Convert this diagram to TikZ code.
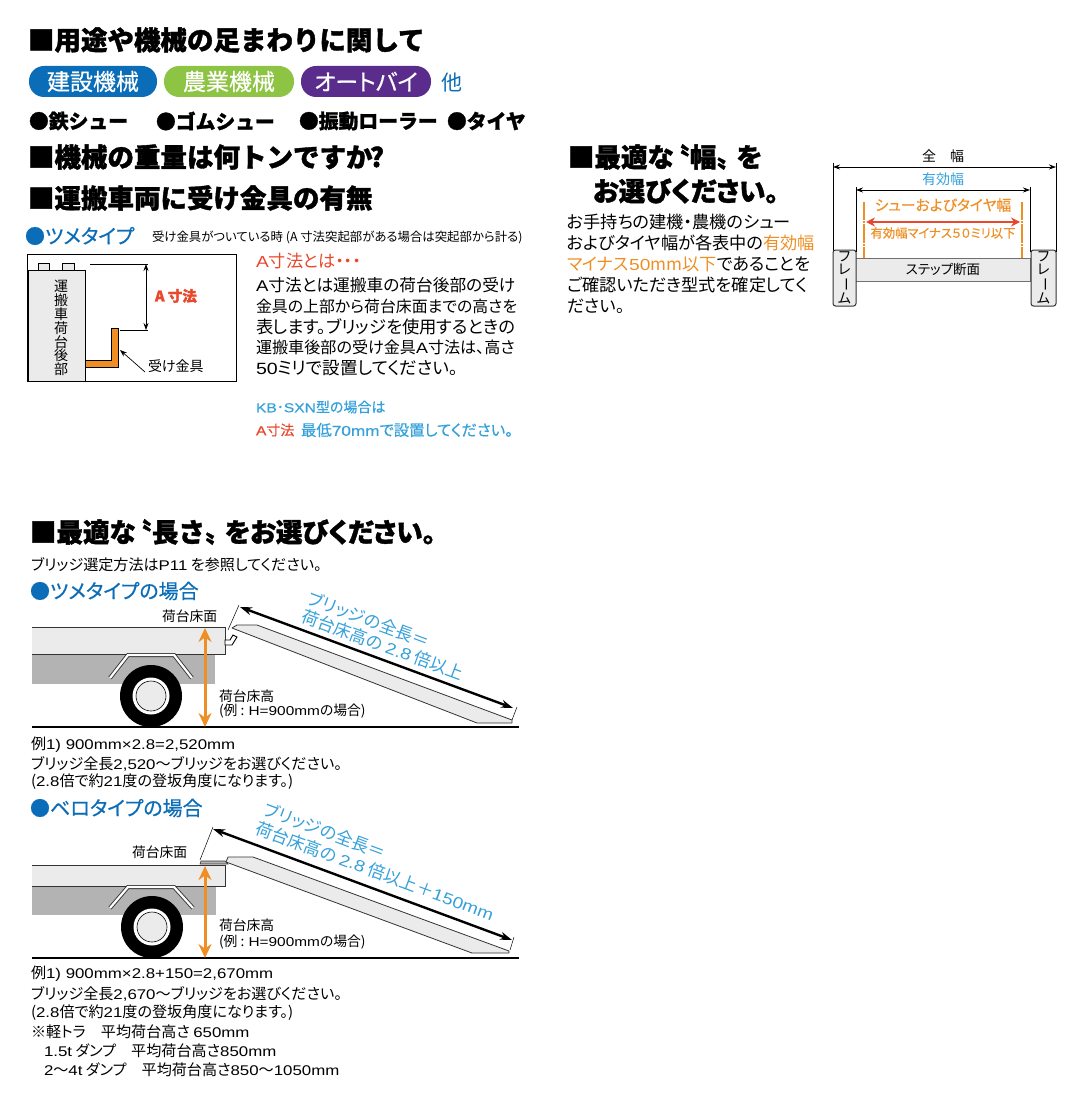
\documentclass[tikz,border=0pt]{standalone}
\usepackage{fontspec}
\usepackage{graphicx}
\usetikzlibrary{arrows.meta}
\setmainfont{Noto Sans CJK JP}[RawFeature=+palt,BoldFeatures={FakeBold=1.4}]
\newfontfamily\hf{Noto Sans CJK JP}[BoldFeatures={FakeBold=1.4}]
\newfontfamily\mf{Noto Sans CJK JP}[RawFeature=+palt,FakeBold=0.5]
\newfontfamily\latf{Liberation Sans}[FakeStretch=1.2,Scale=0.93]
\newfontfamily\latm{Liberation Sans}[FakeStretch=1.2,Scale=0.93,FakeBold=0.5]
\newcommand{\la}[1]{{\latf #1}}
\newcommand{\lam}[1]{{\latm #1}}
\newcommand{\fs}[1]{\fontsize{#1}{#1}\selectfont}
\definecolor{cblue}{HTML}{0B6DB7}
\definecolor{ccyan}{HTML}{35A0DA}
\definecolor{cgreen}{HTML}{8DC444}
\definecolor{cpurple}{HTML}{5A2C8C}
\definecolor{cred}{HTML}{E8472B}
\definecolor{corange}{HTML}{EE8F26}
\definecolor{clight}{HTML}{EBEBEB}
\definecolor{cgray}{HTML}{B3B3B3}
\definecolor{cdark}{HTML}{333333}
\tikzset{
  x=1pt,y=-1pt,
  txt/.style={inner sep=0pt,outer sep=0pt,anchor=west,text=black},
  ctr/.style={inner sep=0pt,outer sep=0pt,anchor=center},
  head/.style={txt,font=\hf\fs{26.5}\bfseries},
  headp/.style={txt,font=\fs{26.5}\bfseries},
  sub/.style={txt,text=cblue,font=\mf\fs{20}},
  row/.style={txt,font=\hf\fs{19.8}\bfseries},
  para/.style={txt,font=\fs{17.2}},
  small/.style={txt,font=\fs{15.1}},
  lab/.style={txt,font=\fs{13.8}},
  pill/.style={rounded corners=15pt,minimum height=31pt,inner sep=0pt,text=white,font=\mf\fs{23}},
  rampshape/.style={fill=clight,draw=cdark,line width=.8pt,line join=round},
  ramptxt/.style={ctr,text=ccyan,rotate=-20.3,font=\fs{17.2}},
  thin/.style={draw=black,line width=.7pt},
  dim/.style={thin,{Stealth[length=7pt,width=5pt]}-{Stealth[length=7pt,width=5pt]}},
  bigdim/.style={draw=black,line width=2.4pt,{Stealth[length=12pt,width=8pt]}-{Stealth[length=12pt,width=8pt]}},
  orangedim/.style={draw=corange,line width=3pt,{Stealth[length=14pt,width=13pt]}-{Stealth[length=14pt,width=13pt]}},
  bed/.style={fill=clight,draw=cdark,line width=1pt},
  frameb/.style={fill=clight,draw=cdark,line width=1pt,rounded corners=2.5pt,minimum height=56pt,inner sep=0pt,align=center,font=\fontsize{14}{13}\selectfont},
  fender/.style={draw=cdark,line width=4pt,line join=miter},
  fenderin/.style={draw=white,line width=2.2pt,line join=miter},
}
\newcommand{\vbarchar}{\rotatebox[origin=c]{-90}{ー}}
\begin{document}
\begin{tikzpicture}
\useasboundingbox (0,0) rectangle (1080,1107);
\node[head] (h1) at (28,40) {■用途や機械の足まわりに関して};
\node[pill,fill=cblue,minimum width=128pt] (p1) at (93,81.5) {建設機械};
\node[pill,fill=cgreen,minimum width=130pt] (p2) at (229,81.5) {農業機械};
\node[pill,fill=cpurple,minimum width=130pt] (p3) at (366,81.5) {オートバイ};
\node[txt,text=cblue,font=\fs{21}] (ta) at (441,83) {他};
\node[row] (r1) at (29,121) {●鉄シュー};
\node[row] (r2) at (156,121) {●ゴムシュー};
\node[row] (r3) at (299,121) {●振動ローラー};
\node[row] (r4) at (447,121) {●タイヤ};
\node[head] (h2) at (28,157) {■機械の重量は何トンですか\kern-.1em ?};
\node[head] (h3) at (28,198) {■運搬車両に受け金具の有無};
\node[sub] (s1) at (25,236) {●ツメタイプ};
\node[txt,font=\fs{12.4}] (s1b) at (152,237) {受け金具がついている時 (A 寸法突起部がある場合は突起部から計る)};
\draw[line width=1pt,fill=white] (27,254) rectangle (236,381);
\draw[line width=1pt,fill=clight] (38,263) rectangle (49,270);
\draw[line width=1pt,fill=clight] (62,263) rectangle (74,270);
\draw[line width=1pt,fill=clight] (28,270) rectangle (85,381);
\node[ctr,align=center,font=\fontsize{14}{12.6}\selectfont] (tv) at (61,328) {運\\搬\\車\\荷\\台\\後\\部};
\draw[fill=corange,draw=black,line width=.8pt] (85,360)--(111,360)--(111,328)--(118,328)--(118,367)--(85,367)--cycle;
\coordinate (dt1) at (90,264); \coordinate (dt2) at (148,264);
\coordinate (db1) at (120,330); \coordinate (db2) at (148,330);
\draw[thin] (dt1)--(dt2); \draw[thin] (db1)--(db2);
\draw[dim] (146,264)--(146,330);
\node[txt,text=cred,font=\hf\fs{14.5}\bfseries] (asun) at (155,296) {A 寸法};
\node[txt,font=\fs{14}] (uk) at (148,366) {受け金具};
\coordinate (ukp) at (120,350);
\draw[thin,-{Stealth[length=7pt,width=5pt]}] (145,372)--(ukp);
\node[para,text=cred] (a0) at (256,261) {\la{A}寸法とは・・・};
\node[txt,font=\fs{16.7}] (a1) at (256,285) {\la{A}寸法とは運搬車の荷台後部の受け};
\node[txt,font=\fs{15.9}] (a2) at (256,306) {金具の上部から荷台床面までの高さを};
\node[txt,font=\fs{17.3}] (a3) at (256,327) {表します。ブリッジを使用するときの};
\node[txt,font=\fs{16.1}] (a4) at (256,347) {運搬車後部の受け金具\la{A}寸法は、高さ};
\node[txt,font=\fs{17.5}] (a5) at (256,368) {\la{50}ミリで設置してください。};
\node[txt,text=ccyan,font=\mf\fs{14}] (k1) at (256,407) {\lam{KB}･\lam{SXN}型の場合は};
\node[txt,text=cred,font=\mf\fs{14}] (k2) at (256,430) {\lam{A}寸法};
\node[txt,text=ccyan,font=\mf\fs{15.4}] (k3) at (301,430) {最低\lam{70mm}で設置してください。};
\node[head] (w1) at (568,157) {■最適な\kern-.4em 〝幅〟\kern-.25em を};
\node[headp] (w2) at (593,191) {お選びください。};
\node[para] (b1) at (567,222) {お手持ちの建機・農機のシュー};
\node[para] (b2) at (567,243) {およびタイヤ幅が各表中の\textcolor{corange}{有効幅}};
\node[para] (b3) at (567,264) {\textcolor{corange}{マイナス\la{50}mm以下}であることを};
\node[para] (b4) at (567,285) {ご確認いただき型式を確定してく};
\node[para] (b5) at (567,306) {ださい。};
\node[ctr,font=\fs{14}] (zw) at (943,156) {全　幅};
\coordinate (z1t) at (833,163); \coordinate (z1b) at (833,252);
\coordinate (z2t) at (1056,163); \coordinate (z2b) at (1056,252);
\draw[thin] (z1t)--(z1b); \draw[thin] (z2t)--(z2b);
\draw[dim] (833,167)--(1056,167);
\node[ctr,text=ccyan,font=\fs{14}] (yw) at (943,179) {有効幅};
\coordinate (y1t) at (856,187); \coordinate (y1b) at (856,252);
\coordinate (y2t) at (1030,187); \coordinate (y2b) at (1030,252);
\draw[thin] (y1t)--(y1b); \draw[thin] (y2t)--(y2b);
\draw[dim] (856,190)--(1030,190);
\node[ctr,text=corange,font=\mf\fs{14.8}] (sy) at (943,205) {シューおよびタイヤ幅};
\draw[draw=corange,line width=1.4pt,dash pattern=on 18pt off 1.5pt on 1.5pt off 1.5pt] (864,202)--(864,262);
\draw[draw=corange,line width=1.4pt,dash pattern=on 18pt off 1.5pt on 1.5pt off 1.5pt] (1022,202)--(1022,262);
\draw[draw=cred,line width=2.6pt,{Stealth[length=9pt,width=9pt]}-{Stealth[length=9pt,width=9pt]}] (866,222)--(1020,222);
\node[ctr,text=corange,font=\mf\fs{12.3}] (ym) at (943,233) {有効幅マイナス５０ミリ以下};
\node[ctr,minimum width=175pt,minimum height=23pt,fill=clight,draw=cdark!70,line width=1pt,font=\fs{13.5},text=black] (st) at (943,269.5) {ステップ断面};
\node[frameb,minimum width=23pt] (f1) at (844.5,278) {フ\\レ\\\vbarchar\\ム};
\node[frameb,minimum width=25pt] (f2) at (1043.5,278) {フ\\レ\\\vbarchar\\ム};
\node[head] (l1) at (30,532) {■最適な\kern-.4em 〝長さ〟\kern-.25em {\rmfamily\bfseries をお選びください。}};
\node[small] (l2) at (31,565) {ブリッジ選定方法は\la{P11} を参照してください。};
\node[sub] (l3) at (30,591) {●ツメタイプの場合};
\fill[cgray] (32,654) rectangle (215,684);
\draw[bed] (32,627)--(225,627)--(225,654)--(32,654);
\fill[clight] (32,628) rectangle (224,653);
\draw[fender] (110,678)--(128,655)--(174,655)--(192,678);
\draw[fenderin] (110,678)--(128,655)--(174,655)--(192,678);
\fill[black] (151,696) circle (31);
\fill[white] (151,696) circle (18.5);
\draw[fill=clight,line width=.6pt] (151,696) circle (15);
\draw[draw=black,line width=1.2pt] (32,727)--(519,727);
\draw[orangedim] (205,628)--(205,727);
\node[lab] (d1a) at (162,616) {荷台床面};
\node[lab] (d1b) at (219,696) {荷台床高};
\node[lab] (d1c) at (219,711) {(例 : \la{H=900mm}の場合)};
\draw[line width=.9pt,fill=white] (225,645)--(232,645)--(237,637)--(233,635)--(230,640)--(225,640)--cycle;
\draw[rampshape] (232,628)--(237,625)--(257,625)--(512,720)--(512,723)--(477,723)--cycle;
\coordinate (e1a) at (239,605); \coordinate (e1b) at (228,630);
\coordinate (e2a) at (517,707); \coordinate (e2b) at (512,720);
\draw[line width=.5pt] (e1a)--(e1b); \draw[line width=.5pt] (e2a)--(e2b);
\draw[bigdim] (240,607)--(513,708);
\node[ramptxt] (d1d) at (369,620) {ブリッジの全長＝};
\node[ramptxt] (d1e) at (383,645) {荷台床高の \la{2.8} 倍以上};
\node[small] (x1) at (31,745) {例\la{1) 900mm×2.8=2,520mm}};
\node[small] (x2) at (31,764) {ブリッジ全長\la{2,520}～ブリッジをお選びください。};
\node[small] (x3) at (31,782) {(\la{2.8}倍で約\la{21}度の登坂角度になります。)};
\node[sub] (l4) at (30,808) {●ベロタイプの場合};
\fill[cgray] (32,886) rectangle (216,915);
\draw[bed] (32,865)--(225,865)--(225,886)--(32,886);
\draw[fender] (110,908)--(128,887)--(174,887)--(193,908);
\draw[fenderin] (110,908)--(128,887)--(174,887)--(193,908);
\fill[black] (152,927) circle (31);
\fill[white] (152,927) circle (18.5);
\draw[fill=clight,line width=.6pt] (152,927) circle (15);
\draw[draw=black,line width=1.2pt] (32,958)--(519,958);
\draw[orangedim] (205,866)--(205,958);
\draw[fill=cgray,draw=cdark,line width=.6pt] (200,864)--(201,861)--(225,861)--(228,864)--cycle;
\node[lab] (d2a) at (132,852) {荷台床面};
\node[lab] (d2b) at (219,925) {荷台床高};
\node[lab] (d2c) at (219,942) {(例 : \la{H=900mm}の場合)};
\draw[rampshape] (226,862)--(228,857)--(253,857)--(509,951)--(509,953)--(472,953)--cycle;
\coordinate (e3a) at (213,827); \coordinate (e3b) at (200,860);
\coordinate (e4a) at (514,937); \coordinate (e4b) at (510,950);
\draw[line width=.5pt] (e3a)--(e3b); \draw[line width=.5pt] (e4a)--(e4b);
\draw[bigdim] (213,829)--(512,940);
\node[ramptxt] (d2d) at (325,831) {ブリッジの全長＝};
\node[ramptxt] (d2e) at (375,871) {荷台床高の \la{2.8} 倍以上＋\la{150mm}};
\node[small] (y1) at (31,974) {例\la{1) 900mm×2.8+150=2,670mm}};
\node[small] (y2) at (31,994) {ブリッジ全長\la{2,670}～ブリッジをお選びください。};
\node[small] (y3) at (31,1013) {(\la{2.8}倍で約\la{21}度の登坂角度になります。)};
\node[small] (y4) at (31,1032) {※軽トラ　平均荷台高さ \la{650mm}};
\node[small] (y5) at (44,1051) {\la{1.5t} ダンプ　平均荷台高さ\la{850mm}};
\node[small] (y6) at (44,1070) {\la{2}～\la{4t} ダンプ　平均荷台高さ\la{850}～\la{1050mm}};
\end{tikzpicture}
\end{document}
